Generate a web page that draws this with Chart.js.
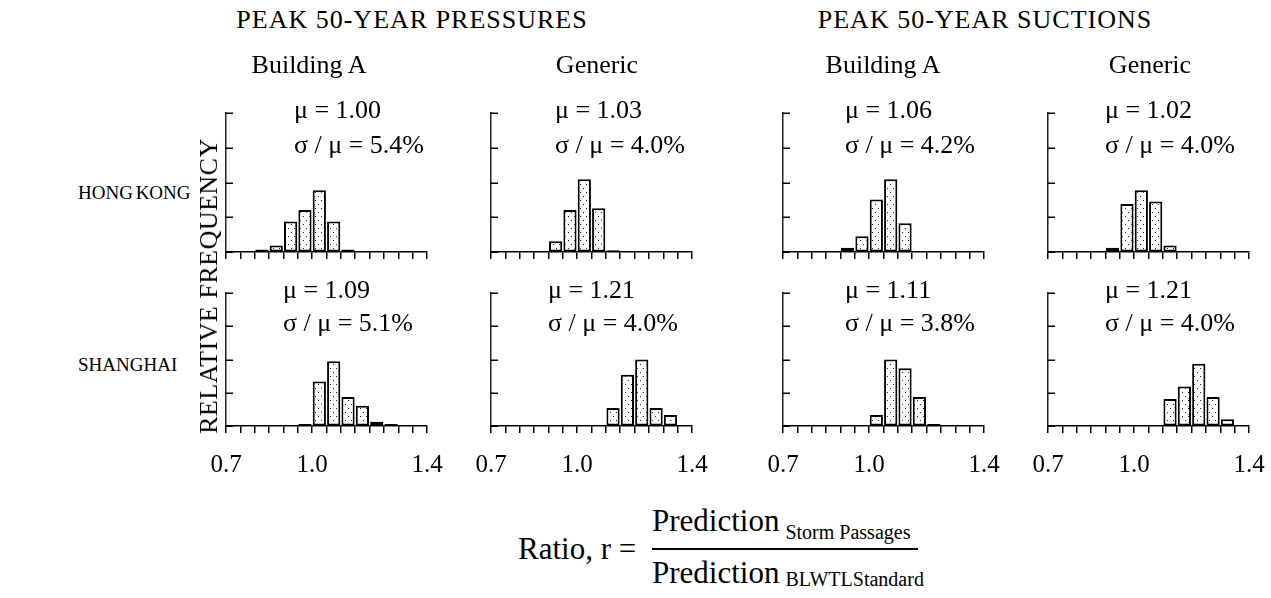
<!DOCTYPE html>
<html>
<head>
<meta charset="utf-8">
<script src="https://cdn.jsdelivr.net/npm/chart.js@4.4.0/dist/chart.umd.min.js"></script>
<style>
  body { margin:0; width:1271px; height:598px; background:#fff; position:relative; overflow:hidden;
         font-family:"Liberation Serif","Times New Roman",serif; color:#000; }
  .t { position:absolute; white-space:nowrap; line-height:1; }
  canvas { position:absolute; }
</style>
</head>
<body>
<script>
// ---- data ----
const groups = ['PEAK 50-YEAR PRESSURES', 'PEAK 50-YEAR SUCTIONS'];
const columns = ['Building A', 'Generic', 'Building A', 'Generic'];
const cities = ['HONG KONG', 'SHANGHAI'];
const xTickLabels = ['0.7', '1.0', '1.4'];
const binWidth = 0.05;

// bin left edges and relative frequencies, one pair per panel
const hkPresBldgBins = [0.80, 0.85, 0.90, 0.95, 1.00, 1.05, 1.10];
const hkPresBldgFreq = [0.014, 0.038, 0.176, 0.242, 0.356, 0.176, 0.014];
const hkPresGenBins = [0.90, 0.95, 1.00, 1.05, 1.10];
const hkPresGenFreq = [0.062, 0.242, 0.418, 0.252, 0.010];
const hkSucBldgBins = [0.90, 0.95, 1.00, 1.05, 1.10];
const hkSucBldgFreq = [0.024, 0.090, 0.302, 0.418, 0.166];
const hkSucGenBins = [0.90, 0.95, 1.00, 1.05, 1.10];
const hkSucGenFreq = [0.024, 0.276, 0.356, 0.290, 0.038];

const shPresBldgBins = [0.95, 1.00, 1.05, 1.10, 1.15, 1.20, 1.25];
const shPresBldgFreq = [0.012, 0.268, 0.390, 0.174, 0.122, 0.026, 0.012];
const shPresGenBins = [1.10, 1.15, 1.20, 1.25, 1.30];
const shPresGenFreq = [0.108, 0.308, 0.400, 0.108, 0.066];
const shSucBldgBins = [1.00, 1.05, 1.10, 1.15, 1.20];
const shSucBldgFreq = [0.066, 0.400, 0.348, 0.174, 0.012];
const shSucGenBins = [1.10, 1.15, 1.20, 1.25, 1.30];
const shSucGenFreq = [0.162, 0.238, 0.374, 0.174, 0.040];

const hkMu = ['1.00', '1.03', '1.06', '1.02'];
const hkCov = ['5.4', '4.0', '4.2', '4.0'];
const shMu = ['1.09', '1.21', '1.11', '1.21'];
const shCov = ['5.1', '4.0', '3.8', '4.0'];

// ---- layout ----
const colLeft = [226, 491, 783, 1048];
const plotW = 201;
const rowTop = [113, 293];
const rowH = [139, 133];
const statLeft = [[294, 555, 845, 1105], [283, 548, 845, 1105]];

function addText(txt, x, y, size, extra) {
  const d = document.createElement('div');
  d.className = 't';
  d.innerHTML = txt;
  d.style.left = x + 'px';
  d.style.top = y + 'px';
  d.style.fontSize = size + 'px';
  if (extra) Object.assign(d.style, extra);
  document.body.appendChild(d);
  return d;
}

// y ticks point into the plot, not out of it
const innerTicks = {
  id: 'innerTicks',
  afterDraw(chart) {
    const ys = chart.scales.y, ctx = chart.ctx, left = chart.chartArea.left;
    ctx.save();
    ctx.strokeStyle = '#000';
    ctx.lineWidth = 1.5;
    ys.ticks.forEach(t => {
      const py = Math.round(ys.getPixelForValue(t.value)) + 0.25;
      ctx.beginPath();
      ctx.moveTo(left, py);
      ctx.lineTo(left + 7, py);
      ctx.stroke();
    });
    ctx.restore();
  }
};

function tickLabel(v) {
  const hit = xTickLabels.find(s => Math.abs(parseFloat(s) - v) < 1e-6);
  return hit || '';
}

function makePanel(row, col, bins, freq) {
  const padL = 20, padR = 22, padT = 10;
  const axisH = row === 0 ? 12 : 52;
  const w = padL + plotW + padR;
  const h = padT + rowH[row] + axisH;
  const cv = document.createElement('canvas');
  cv.width = w; cv.height = h;
  cv.style.width = w + 'px'; cv.style.height = h + 'px';
  cv.style.left = (colLeft[col] - padL) + 'px';
  cv.style.top = (rowTop[row] - padT) + 'px';
  document.body.appendChild(cv);

  // stippled fill
  const tile = document.createElement('canvas');
  tile.width = 6; tile.height = 8;
  const g = tile.getContext('2d');
  g.fillStyle = '#fff'; g.fillRect(0, 0, 6, 8);
  g.fillStyle = '#222';
  g.fillRect(1, 1, 1, 1); g.fillRect(4, 5, 1, 1);
  const dots = cv.getContext('2d').createPattern(tile, 'repeat');

  new Chart(cv, {
    type: 'bar',
    data: {
      datasets: [{
        data: bins.map((b, i) => ({ x: b + binWidth / 2, y: freq[i] })),
        backgroundColor: dots,
        borderColor: '#000',
        borderWidth: 2,
        borderSkipped: false,
        barPercentage: 0.92,
        categoryPercentage: 1
      }]
    },
    options: {
      responsive: false,
      animation: false,
      events: [],
      layout: { padding: { left: padL - 2, right: padR, top: padT, bottom: 0 } },
      plugins: { legend: { display: false }, tooltip: { enabled: false } },
      scales: {
        x: {
          type: 'linear', min: 0.7, max: 1.4, offset: false,
          grid: { offset: false, drawOnChartArea: false, drawTicks: true, tickLength: 7, color: '#000', lineWidth: 1.5 },
          border: { color: '#000', width: 1.5 },
          ticks: {
            stepSize: 0.05, maxTicksLimit: 30, autoSkip: false, maxRotation: 0, padding: 17,
            color: '#000', font: { family: 'Liberation Serif', size: 25 },
            callback: v => row === 1 ? tickLabel(v) : ''
          },
          afterFit: s => { s.height = axisH; s.paddingLeft = 0; s.paddingRight = 0; }
        },
        y: {
          min: 0, max: 0.8,
          ticks: { stepSize: 0.2, display: false },
          grid: { drawOnChartArea: false, drawTicks: false },
          border: { color: '#222', width: 1.5 },
          afterFit: s => { s.width = 2; }
        }
      }
    },
    plugins: [innerTicks]
  });
}

const panels = [
  [hkPresBldgBins, hkPresBldgFreq, hkPresGenBins, hkPresGenFreq, hkSucBldgBins, hkSucBldgFreq, hkSucGenBins, hkSucGenFreq],
  [shPresBldgBins, shPresBldgFreq, shPresGenBins, shPresGenFreq, shSucBldgBins, shSucBldgFreq, shSucGenBins, shSucGenFreq]
];
const mus = [hkMu, shMu];
const covs = [hkCov, shCov];

for (let r = 0; r < 2; r++) {
  for (let c = 0; c < 4; c++) {
    makePanel(r, c, panels[r][2 * c], panels[r][2 * c + 1]);
    const fs = 26;
    const tick0 = rowTop[r] - 3;
    const tick1 = rowTop[r] + rowH[r] / 4 - 3;
    addText('\u03bc = ' + mus[r][c], statLeft[r][c], tick0 - fs / 2, fs);
    addText('\u03c3 / \u03bc = ' + covs[r][c] + '%', statLeft[r][c], tick1 - fs / 2, fs);
  }
}

// headings
const groupCx = [412, 985];
groups.forEach((s, i) => addText(s, groupCx[i], 7, 26, { transform: 'translateX(-50%)', letterSpacing: '1px' }));
const colCx = [309, 597, 883, 1150];
columns.forEach((s, i) => addText(s, colCx[i], 52, 26, { transform: 'translateX(-50%)' }));
const cityY = [193, 365];
cities.forEach((s, i) => addText(s, 78, cityY[i] - 10, 19, { wordSpacing: '-2px' }));
addText('RELATIVE FREQUENCY', 209, 286, 26, { transform: 'translate(-50%,-50%) rotate(-90deg)', letterSpacing: '0.5px' });

// ratio definition
addText('Ratio, r =', 518, 533, 31);
addText('Prediction<span style="font-size:20px;position:relative;top:8px;margin-left:6px">Storm Passages</span>', 652, 505, 31);
addText('Prediction<span style="font-size:20px;position:relative;top:3px;margin-left:6px">BLWTLStandard</span>', 652, 557, 31);
const bar = document.createElement('div');
Object.assign(bar.style, { position: 'absolute', left: '652px', top: '548px', width: '266px', height: '2px', background: '#000' });
document.body.appendChild(bar);
</script>
</body>
</html>
